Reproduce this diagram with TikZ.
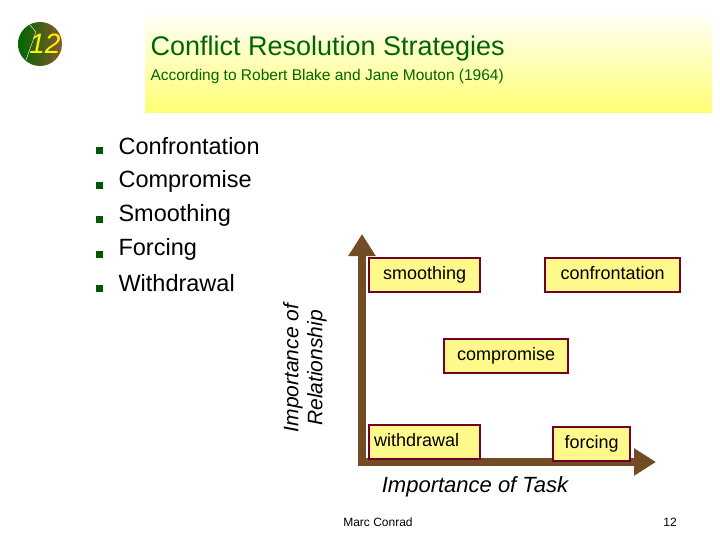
\documentclass[tikz,border=0pt]{standalone}
\usepackage{fontspec}
\setmainfont{Liberation Sans}
\usetikzlibrary{arrows.meta}
\begin{document}
\begin{tikzpicture}[x=1pt,y=-1pt,
  lbl/.style={draw=purple!60!black,line width=2.2pt,fill=yellow!45,inner sep=5pt,font=\fontsize{18}{20}\selectfont,anchor=north west,minimum height=34pt,text height=13pt,text depth=4pt},
  bul/.style={font=\fontsize{23.5}{26}\selectfont,anchor=west},
  sq/.style={fill=green!35!black,minimum size=7pt,inner sep=0pt}]
\useasboundingbox (0,0) rectangle (720,540);
\fill[top color=white,bottom color=yellow!55] (145,10) rectangle (712,113);
\node[circle,minimum size=44pt,inner sep=0pt,left color=green!40!black,right color=brown!70!black] (c) at (40,44) {};
\draw[white,thin] (30,25) -- (36,32) -- (26,60);
\node[font=\itshape\fontsize{28}{30}\selectfont,text=yellow] (n) at (45,44) {12};
\node[anchor=west,text=green!40!black,font=\fontsize{27}{30}\selectfont] (t) at (147,49) {Conflict Resolution Strategies};
\node[anchor=west,text=green!40!black,font=\fontsize{15.5}{17}\selectfont] (s) at (147,76) {According to Robert Blake and Jane Mouton (1964)};
\foreach \y/\t [count=\i] in {146/Confrontation,181/Compromise,215/Smoothing,249/Forcing,283/Withdrawal}{
  \node[sq] (q\i) at (99,\y+5) {};
  \node[bul] (b\i) at (115,\y) {\t};}
\node[rotate=90,font=\itshape\fontsize{21}{24}\selectfont,align=center] (yl) at (305,368) {Importance of\\Relationship};
\coordinate (o) at (362,462);
\coordinate (yt) at (362,234);
\coordinate (xt) at (656,462);
\draw[line width=8pt,brown!60!black,-{Triangle[length=22pt,width=26pt]}] ([yshift=-4pt]o) -- (yt);
\draw[line width=8pt,brown!60!black,-{Triangle[length=22pt,width=26pt]}] ([xshift=-4pt]o) -- (xt);
\node[lbl,minimum width=111pt,align=left] (sm) at (368,257) {smoothing};
\node[lbl,minimum width=135pt,align=center] (cf) at (544,257) {confrontation};
\node[lbl,minimum width=124pt] (cp) at (443,338) {compromise};
\node[lbl,minimum width=111pt,align=left] (wd) at (368,424) {withdrawal\hspace{16pt}};
\node[lbl,minimum width=77pt,align=center] (fc) at (552,426) {forcing};
\node[font=\itshape\fontsize{22}{24}\selectfont] (xl) at (475,487) {Importance of Task};
\node[font=\fontsize{12}{14}\selectfont] (mc) at (378,522) {Marc Conrad};
\node[font=\fontsize{12}{14}\selectfont] (pg) at (670,522) {12};
\end{tikzpicture}
\end{document}
